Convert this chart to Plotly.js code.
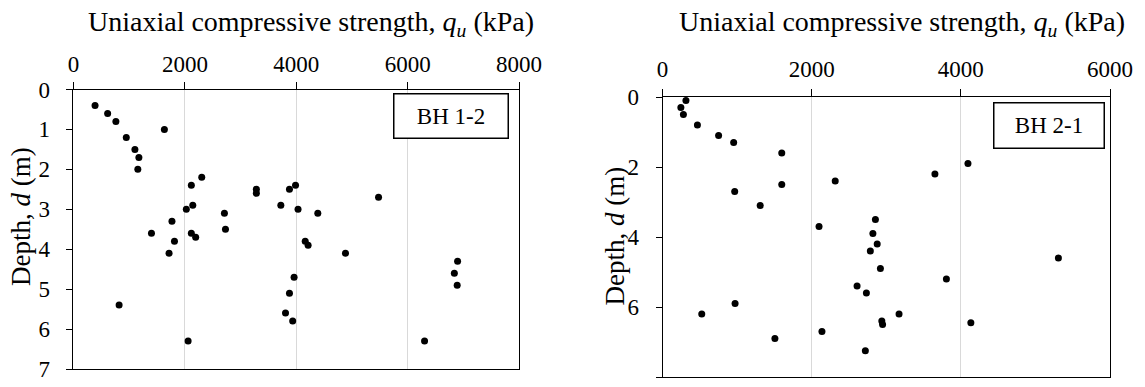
<!DOCTYPE html>
<html>
<head>
<meta charset="utf-8">
<script src="https://cdn.plot.ly/plotly-3.0.1.min.js"></script>
<style>html,body{margin:0;padding:0;background:#fff;}#chart{width:1145px;height:387px;}</style>
</head>
<body>
<div id="chart"></div>
<script>
// BH 1-2 data: uniaxial compressive strength (kPa) vs depth (m)
const bh12_qu = [387, 613, 761, 1632, 948, 1103, 1174, 1155, 2303, 2116, 3284, 3284, 3878, 3987, 5478,
  2026, 2142, 2710, 3723, 4032, 4387, 2729, 1768, 1400, 2116, 2194, 1813, 4161, 4213, 1716, 4884,
  6897, 6839, 6890, 3961, 3878, 819, 3807, 3936, 2058, 6304];
const bh12_depth = [0.4, 0.6, 0.8, 1.0, 1.2, 1.5, 1.7, 2.0, 2.2, 2.4, 2.5, 2.6, 2.5, 2.4, 2.7,
  3.0, 2.9, 3.1, 2.9, 3.0, 3.1, 3.5, 3.3, 3.6, 3.6, 3.7, 3.8, 3.8, 3.9, 4.1, 4.1,
  4.3, 4.6, 4.9, 4.7, 5.1, 5.4, 5.6, 5.8, 6.3, 6.3];

// BH 2-1 data
const bh21_qu = [313, 245, 279, 467, 751, 953, 1598, 4095, 3652, 2315, 1598, 967, 1309, 2854, 2098,
  2820, 2878, 2786, 5308, 2921, 3806, 2608, 2733, 525, 972, 3171, 2940, 2950, 4134, 2137, 1506, 2719];
const bh21_depth = [0.1, 0.3, 0.5, 0.8, 1.1, 1.3, 1.6, 1.9, 2.2, 2.4, 2.5, 2.7, 3.1, 3.5, 3.7,
  3.9, 4.2, 4.4, 4.6, 4.9, 5.2, 5.4, 5.6, 6.2, 5.9, 6.2, 6.4, 6.5, 6.45, 6.7, 6.9, 7.25];

const labels = {
  xTitle: 'Uniaxial compressive strength, <i>q</i><sub><i>u</i></sub> (kPa)',
  yTitle: 'Depth, <i>d</i> (m)',
  left: 'BH 1-2',
  right: 'BH 2-1'
};

const FONT = 'Liberation Serif, Times New Roman, Times, serif';
const marker = {color: '#000', size: 7};

const traces = [
  {x: bh12_qu, y: bh12_depth, type: 'scatter', mode: 'markers', marker: marker, xaxis: 'x', yaxis: 'y', hoverinfo: 'x+y'},
  {x: bh21_qu, y: bh21_depth, type: 'scatter', mode: 'markers', marker: marker, xaxis: 'x2', yaxis: 'y2', hoverinfo: 'x+y'}
];

function xax(domain, range, anchor, standoff) {
  return {
    domain: domain, range: range, dtick: 2000, tick0: 0, side: 'top', anchor: anchor,
    showgrid: true, gridcolor: '#d9d9d9', gridwidth: 1, zeroline: false,
    showline: true, linecolor: '#000', linewidth: 1, mirror: true,
    ticks: 'outside', ticklen: 7, tickcolor: '#000', tickwidth: 1,
    ticklabelstandoff: standoff,
    tickfont: {family: FONT, size: 23, color: '#000'}
  };
}
function yax(domain, range, anchor, dtick) {
  return {
    domain: domain, range: range, dtick: dtick, tick0: 0, anchor: anchor,
    showgrid: false, zeroline: false,
    showline: true, linecolor: '#000', linewidth: 1, mirror: true,
    ticks: 'outside', ticklen: 6, tickcolor: '#000', tickwidth: 1,
    ticklabelstandoff: 12,
    tickfont: {family: FONT, size: 23, color: '#000'}
  };
}

const layout = {
  width: 1145, height: 387,
  margin: {l: 0, r: 0, t: 0, b: 0},
  paper_bgcolor: '#fff', plot_bgcolor: '#fff',
  showlegend: false,
  font: {family: FONT, color: '#000'},
  xaxis: xax([0.06419, 0.45328], [0, 8000], 'y', 0),
  yaxis: yax([0.04651, 0.76873], [7, 0], 'x', 1),
  xaxis2: xax([0.57869, 0.96943], [0, 6000], 'y2', 3),
  yaxis2: yax([0.02584, 0.74935], [8, 0], 'x2', 2),
  annotations: [
    {text: labels.xTitle, xref: 'paper', yref: 'paper', x: 310.5/1145, y: 1 - 23/387, xanchor: 'center', yanchor: 'middle', showarrow: false, font: {family: FONT, size: 28, color: '#000'}},
    {text: labels.xTitle, xref: 'paper', yref: 'paper', x: 902/1145, y: 1 - 23/387, xanchor: 'center', yanchor: 'middle', showarrow: false, font: {family: FONT, size: 28, color: '#000'}},
    {text: labels.yTitle, xref: 'paper', yref: 'paper', x: 21/1145, y: 1 - 217/387, xanchor: 'center', yanchor: 'middle', textangle: -90, showarrow: false, font: {family: FONT, size: 27, color: '#000'}},
    {text: labels.yTitle, xref: 'paper', yref: 'paper', x: 614/1145, y: 1 - 236.5/387, xanchor: 'center', yanchor: 'middle', textangle: -90, showarrow: false, font: {family: FONT, size: 27, color: '#000'}},
    {text: labels.left, xref: 'paper', yref: 'paper', x: 451/1145, y: 1 - 115.8/387, xanchor: 'center', yanchor: 'middle', showarrow: false,
     width: 113, height: 43, borderpad: 0, bordercolor: '#000', borderwidth: 1.5, bgcolor: '#fff', font: {family: FONT, size: 23, color: '#000'}},
    {text: labels.right, xref: 'paper', yref: 'paper', x: 1049/1145, y: 1 - 125/387, xanchor: 'center', yanchor: 'middle', showarrow: false,
     width: 109, height: 44, borderpad: 0, bordercolor: '#000', borderwidth: 1.5, bgcolor: '#fff', font: {family: FONT, size: 23, color: '#000'}}
  ]
};

Plotly.newPlot('chart', traces, layout, {staticPlot: true, displayModeBar: false});
</script>
</body>
</html>
